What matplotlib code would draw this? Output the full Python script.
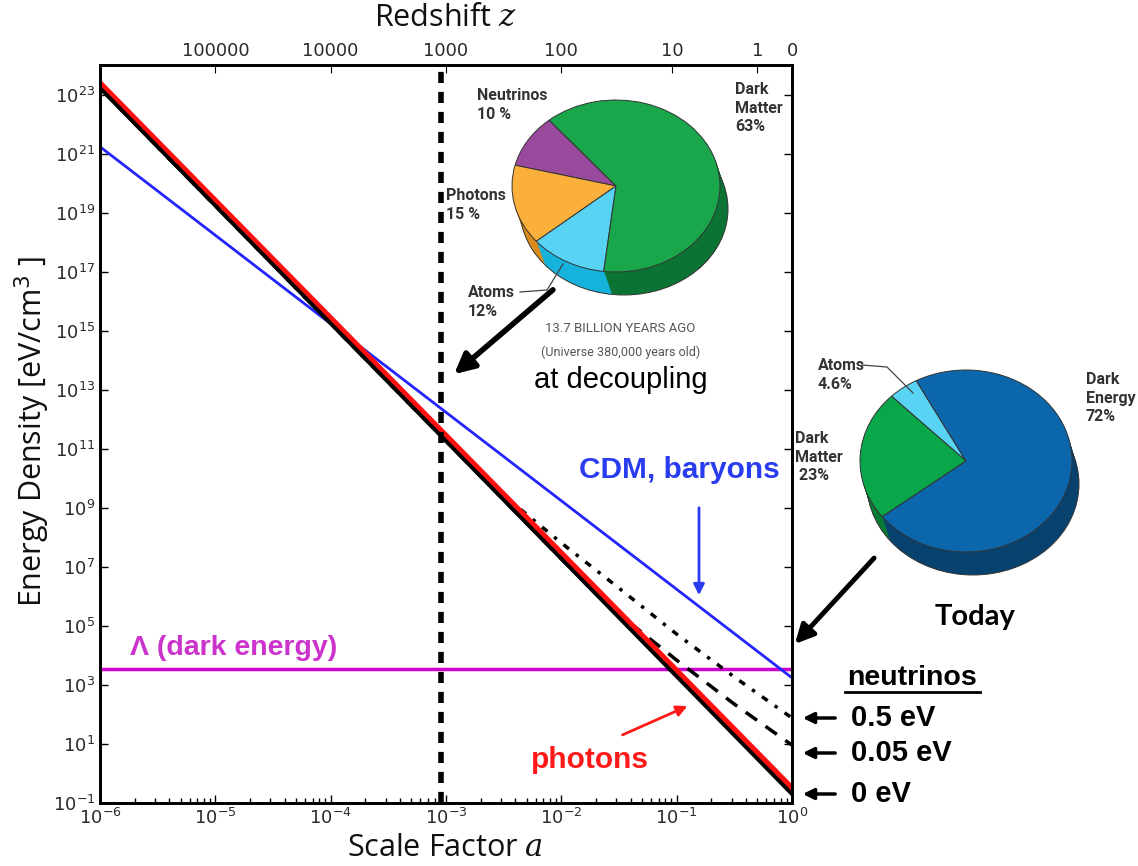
import matplotlib
matplotlib.use('Agg')
import matplotlib.pyplot as plt
from matplotlib.patches import Ellipse
from matplotlib.ticker import NullLocator, FixedLocator

# ---- data ----
a_edges = [1e-6, 1.0]
rho_photons = [2.45e23, 0.32]
rho_cdm_baryons = [1.7e21, 1.74e3]
rho_lambda = [3.55e3, 3.55e3]
rho_nu_0eV = [1.66e23, 0.20]

nu_a = [1e-6, 3.16e-4, 1e-3, 3.16e-3, 1e-2, 3.16e-2, 1e-1, 3.16e-1, 1.0]
rho_nu_05eV = [1.66e23, 1.78e13, 2.0e11, 2.63e9, 6.46e7, 1.9e6, 5.25e4, 1.86e3, 75.9]
rho_nu_005eV = [1.66e23, 1.78e13, 1.82e11, 1.86e9, 1.86e7, 2.51e5, 6.9e3, 224.0, 9.1]

z_decoupling = 1100
z_ticks = [100000, 10000, 1000, 100, 10, 1, 0]
z_labels = ['100000', '10000', '1000', '100', '10', '1', '0']

dec_names = ['Neutrinos', 'Photons', 'Atoms', 'Dark Matter']
dec_frac = [10, 15, 12, 63]
dec_top = ['#9a4a9c', '#fbb03b', '#58d3f3', '#1aa64b']
dec_side = ['#6e2f70', '#d88b1a', '#15b3dc', '#0b7435']

today_names = ['Atoms', 'Dark Matter', 'Dark Energy']
today_frac = [4.6, 23, 72]
today_top = ['#58d3f3', '#0aa64a', '#0b66ab']
today_side = ['#20b0d8', '#077a34', '#07426f']

plt.rcParams['mathtext.fontset'] = 'custom'
plt.rcParams['mathtext.rm'] = 'DejaVu Sans'
plt.rcParams['mathtext.it'] = 'DejaVu Serif:italic'

W, H = 1138, 866
fig = plt.figure(figsize=(W / 100, H / 100), dpi=100)


def fbox(x0, y0, x1, y1):
    return [x0 / W, 1 - y1 / H, (x1 - x0) / W, (y1 - y0) / H]


# ---- main log-log axes ----
ax = fig.add_axes(fbox(100, 65, 792, 803))
ax.set_xscale('log')
ax.set_yscale('log')

ax.plot(a_edges, rho_lambda, color='#cc00cc', lw=2.5)
ax.plot(a_edges, rho_cdm_baryons, color='#2424ff', lw=2)
ax.plot(nu_a, rho_nu_05eV, color='k', lw=2.5, ls=(0, (1, 2.5, 2, 2.5)))
ax.plot(nu_a, rho_nu_005eV, color='k', lw=2.5, ls=(0, (4, 3)))
ax.plot(a_edges, rho_photons, color='#ff1010', lw=4)
ax.plot(a_edges, rho_nu_0eV, color='k', lw=2.8)
ax.axvline(1.0 / (1 + z_decoupling), color='k', lw=4, ls=(0, (2, 1.6)))

ax.set_xlim(1e-6, 1)
ax.set_ylim(1e-1, 1e24)
ax.yaxis.set_major_locator(FixedLocator([10.0 ** k for k in range(-1, 24, 2)]))
ax.yaxis.set_minor_locator(NullLocator())
ax.tick_params(which='both', direction='in', right=True, top=False,
               labelsize=13, labelcolor='#2b2b2b', width=1)
ax.tick_params(which='major', length=6)
ax.tick_params(which='minor', length=3.5)
for s in ax.spines.values():
    s.set_linewidth(2)

top = ax.twiny()
top.set_xscale('log')
top.set_xlim(ax.get_xlim())
top.set_xticks([1.0 / (1 + z) for z in z_ticks])
top.set_xticklabels(z_labels)
top.xaxis.set_minor_locator(NullLocator())
top.tick_params(direction='in', length=6, labelsize=13, labelcolor='#2b2b2b')
for s in top.spines.values():
    s.set_linewidth(2)


# ---- pseudo 3D pies ----
def draw_pie(cx, cy, rx, ry, depth, shift, values, top_cols, side_cols, start):
    x0, y0, x1, y1 = cx - rx - 6, cy - ry - 6, cx + rx + shift + 6, cy + ry + depth + 6
    pax = fig.add_axes(fbox(x0, y0, x1, y1))
    n = 14
    for k in range(n, 0, -1):
        t = k / n
        pax.pie(values, colors=side_cols, startangle=start, counterclock=True,
                center=(t * shift / rx, -t * depth / ry), radius=1,
                wedgeprops=dict(linewidth=0))
    pax.add_patch(Ellipse((shift / rx, -depth / ry), 2, 2, fill=False,
                          edgecolor='#333333', lw=0.7))
    pax.pie(values, colors=top_cols, startangle=start, counterclock=True,
            center=(0, 0), radius=1,
            wedgeprops=dict(edgecolor='#333333', linewidth=0.7))
    pax.set_aspect('auto')
    pax.set_xlim((x0 - cx) / rx, (x1 - cx) / rx)
    pax.set_ylim((cy - y1) / ry, (cy - y0) / ry)
    pax.axis('off')


draw_pie(616, 186, 104, 86, 23, 8, dec_frac, dec_top, dec_side, 130)
draw_pie(966, 461, 106, 91, 23, 7, today_frac, today_top, today_side, 118)

# ---- overlay for labels and arrows (pixel coords) ----
ov = fig.add_axes([0, 0, 1, 1], facecolor='none')
ov.set_xlim(0, W)
ov.set_ylim(H, 0)
ov.axis('off')

ov.text(445, 848, 'Scale Factor $a$', fontsize=22, family='Open Sans',
        ha='center', va='center', color='#111111')
ov.text(445, 18, 'Redshift $z$', fontsize=22, family='Open Sans',
        ha='center', va='center', color='#111111')
ov.text(32, 432, 'Energy Density [eV/cm$^3$ ]', fontsize=22, family='Open Sans',
        ha='center', va='center', rotation=90, color='#111111')

bold = dict(family='Liberation Sans', fontweight='bold')
ov.text(780, 470, 'CDM, baryons', color='#2a3cf0', fontsize=21.5, ha='right', va='center', **bold)
ov.text(130, 648, '\u039b (dark energy)', color='#cc33cc', fontsize=20.5, ha='left', va='center', **bold)
ov.text(590, 760, 'photons', color='#ff1a1a', fontsize=21.5, ha='center', va='center', **bold)
ov.text(912, 678, 'neutrinos', color='k', fontsize=20.5, ha='center', va='center', **bold)
ov.plot([845, 980], [692, 692], color='k', lw=2)
for lab, yy in [('0.5 eV', 718), ('0.05 eV', 753), ('0 eV', 794)]:
    ov.text(851, yy, lab, fontsize=21, ha='left', va='center', **bold)
    ov.annotate('', xy=(800, yy), xytext=(838, yy),
                arrowprops=dict(arrowstyle='-|>', lw=2.5, color='k', mutation_scale=16))

ov.annotate('', xy=(699, 598), xytext=(699, 505),
            arrowprops=dict(arrowstyle='-|>', lw=2, color='#2a3cf0', mutation_scale=16))
ov.annotate('', xy=(690, 705), xytext=(620, 736),
            arrowprops=dict(arrowstyle='-|>', lw=2, color='#ff1a1a', mutation_scale=16))
ov.annotate('', xy=(452, 376), xytext=(555, 288),
            arrowprops=dict(arrowstyle='-|>', lw=4, color='k', mutation_scale=30))
ov.annotate('', xy=(793, 646), xytext=(876, 556),
            arrowprops=dict(arrowstyle='-|>', lw=3.5, color='k', mutation_scale=28))

pie_txt = dict(family='Roboto', fontweight='bold', color='#333333', fontsize=11.5,
               linespacing=1.3, ha='left', va='top')
ov.text(477, 88, 'Neutrinos\n10 %', **pie_txt)
ov.text(446, 188, 'Photons\n15 %', **pie_txt)
ov.text(468, 285, 'Atoms\n12%', **pie_txt)
ov.plot([520, 547, 563], [292, 290, 264], color='#444444', lw=0.9)
ov.text(735, 82, 'Dark\nMatter\n63%', **pie_txt)
ov.text(620, 328, '13.7 BILLION YEARS AGO', family='Roboto', color='#555555', fontsize=9.5,
        ha='center', va='center')
ov.text(621, 352, '(Universe 380,000 years old)', family='Roboto', color='#555555', fontsize=9,
        ha='center', va='center')
ov.text(621, 380, 'at decoupling', family='Liberation Sans', fontsize=21, color='k',
        ha='center', va='center')

ov.text(818, 358, 'Atoms\n4.6%', **pie_txt)
ov.plot([862, 887, 913], [365, 367, 393], color='#444444', lw=0.9)
ov.text(795, 431, 'Dark\nMatter\n 23%', **pie_txt)
ov.text(1086, 372, 'Dark\nEnergy\n72%', **pie_txt)
ov.text(975, 617, 'Today', family='Lato', fontweight='bold', fontsize=21, color='k',
        ha='center', va='center')

fig.savefig('out.png', dpi=100)
